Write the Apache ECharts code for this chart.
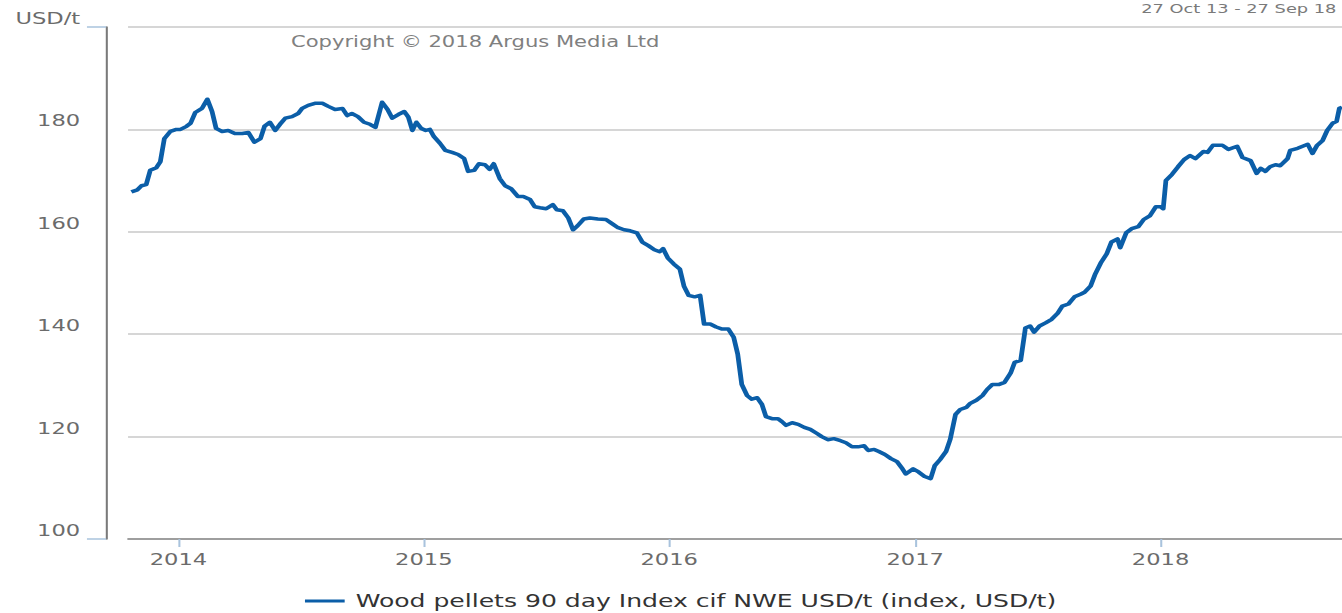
<!DOCTYPE html>
<html>
<head>
<meta charset="utf-8">
<title>Wood pellets 90 day Index</title>
<script src="https://cdn.jsdelivr.net/npm/echarts@6/dist/echarts.min.js"></script>
<style>
	html, body { margin: 0; padding: 0; background: #fff; overflow: hidden; }
	/* the source picture is stretched sideways, so the chart is drawn narrow and widened */
	#main { width: 980px; height: 613px; transform: scaleX(1.3694); transform-origin: 0 0; }
</style>
</head>
<body>
<div id="main"></div>
<script>
	const seriesName = 'Wood pellets 90 day Index cif NWE USD/t (index, USD/t)';

	const weekDates = [
		'2013-10-23', '2013-11-01', '2013-11-07', '2013-11-14', '2013-11-20', '2013-11-29', '2013-12-05', '2013-12-11', '2013-12-20', '2013-12-29',
		'2014-01-04', '2014-01-13', '2014-01-19', '2014-01-26', '2014-02-05', '2014-02-13', '2014-02-20', '2014-02-26', '2014-03-07', '2014-03-16',
		'2014-03-26', '2014-04-06', '2014-04-15', '2014-04-24', '2014-05-03', '2014-05-09', '2014-05-17', '2014-05-25', '2014-06-01', '2014-06-09',
		'2014-06-19', '2014-06-28', '2014-07-04', '2014-07-13', '2014-07-23', '2014-08-03', '2014-08-12', '2014-08-22', '2014-09-02', '2014-09-09',
		'2014-09-16', '2014-09-25', '2014-10-04', '2014-10-13', '2014-10-21', '2014-10-31', '2014-11-08', '2014-11-15', '2014-11-24', '2014-12-03',
		'2014-12-09', '2014-12-15', '2014-12-21', '2014-12-28',
		'2015-01-04', '2015-01-10', '2015-01-16', '2015-01-25', '2015-02-02', '2015-02-12', '2015-02-21', '2015-03-02', '2015-03-08', '2015-03-17',
		'2015-03-24', '2015-04-02', '2015-04-09', '2015-04-15', '2015-04-24', '2015-05-02', '2015-05-11', '2015-05-21', '2015-05-29', '2015-06-08',
		'2015-06-15', '2015-06-23', '2015-07-02', '2015-07-12', '2015-07-18', '2015-07-27', '2015-08-04', '2015-08-11', '2015-08-18', '2015-08-27',
		'2015-09-05', '2015-09-17', '2015-09-29', '2015-10-08', '2015-10-17', '2015-10-26', '2015-11-04', '2015-11-14', '2015-11-22', '2015-12-01',
		'2015-12-10', '2015-12-18', '2015-12-23', '2015-12-30',
		'2016-01-08', '2016-01-17', '2016-01-23', '2016-01-30', '2016-02-08', '2016-02-16', '2016-02-22', '2016-03-02', '2016-03-11', '2016-03-20',
		'2016-03-29', '2016-04-06', '2016-04-12', '2016-04-18', '2016-04-26', '2016-05-03', '2016-05-11', '2016-05-18', '2016-05-24', '2016-06-02',
		'2016-06-11', '2016-06-17', '2016-06-23', '2016-07-02', '2016-07-11', '2016-07-20', '2016-07-29', '2016-08-08', '2016-08-15', '2016-08-24',
		'2016-09-02', '2016-09-12', '2016-09-20', '2016-09-29', '2016-10-08', '2016-10-17', '2016-10-23', '2016-11-01', '2016-11-08', '2016-11-17',
		'2016-11-26', '2016-12-05', '2016-12-12', '2016-12-18', '2016-12-29',
		'2017-01-06', '2017-01-15', '2017-01-24', '2017-01-30', '2017-02-07', '2017-02-16', '2017-02-22', '2017-03-02', '2017-03-09', '2017-03-18',
		'2017-03-24', '2017-04-02', '2017-04-11', '2017-04-18', '2017-04-26', '2017-05-06', '2017-05-14', '2017-05-23', '2017-05-29', '2017-06-07',
		'2017-06-14', '2017-06-21', '2017-06-27', '2017-07-05', '2017-07-14', '2017-07-23', '2017-08-01', '2017-08-08', '2017-08-17', '2017-08-26',
		'2017-09-04', '2017-09-10', '2017-09-19', '2017-09-26', '2017-10-04', '2017-10-13', '2017-10-20', '2017-10-29', '2017-11-02', '2017-11-11',
		'2017-11-19', '2017-11-29', '2017-12-07', '2017-12-16', '2017-12-25',
		'2018-01-01', '2018-01-05', '2018-01-09', '2018-01-18', '2018-01-27', '2018-02-05', '2018-02-14', '2018-02-22', '2018-03-06', '2018-03-12',
		'2018-03-20', '2018-04-03', '2018-04-12', '2018-04-25', '2018-05-03', '2018-05-15', '2018-05-24', '2018-05-30', '2018-06-06', '2018-06-13',
		'2018-06-21', '2018-06-28', '2018-07-09', '2018-07-13', '2018-07-24', '2018-08-08', '2018-08-15', '2018-08-22', '2018-08-30', '2018-09-06',
		'2018-09-14', '2018-09-20', '2018-09-24', '2018-09-28'
	];

	const indexValues = [
		167.8, 168.2, 169.0, 169.2, 172.0, 172.5, 173.7, 178.2, 179.6, 180.0,
		180.0, 180.6, 181.2, 183.3, 184.1, 185.9, 183.5, 180.2, 179.6, 179.8,
		179.2, 179.2, 179.4, 177.5, 178.2, 180.6, 181.4, 179.8, 181.0, 182.2,
		182.5, 183.1, 184.1, 184.7, 185.1, 185.1, 184.5, 183.9, 184.1, 182.7,
		183.1, 182.5, 181.4, 181.0, 180.4, 185.3, 183.9, 182.2, 182.9, 183.5,
		182.4, 179.8, 181.4, 180.2,
		179.8, 180.0, 178.6, 177.3, 175.9, 175.5, 175.1, 174.3, 171.8, 172.0,
		173.3, 173.1, 172.2, 173.3, 170.4, 169.0, 168.4, 166.9, 166.9, 166.3,
		164.9, 164.7, 164.5, 165.3, 164.3, 164.1, 162.7, 160.4, 161.2, 162.5,
		162.7, 162.5, 162.4, 161.6, 160.8, 160.4, 160.2, 159.8, 158.0, 157.3,
		156.5, 156.1, 156.7, 154.9,
		153.7, 152.7, 149.4, 147.6, 147.3, 147.6, 142.0, 142.0, 141.4, 141.0,
		141.0, 139.4, 136.1, 130.2, 128.0, 127.3, 127.6, 126.3, 123.9, 123.5,
		123.5, 122.9, 122.2, 122.7, 122.4, 121.8, 121.4, 120.6, 120.0, 119.4,
		119.6, 119.2, 118.8, 118.0, 118.0, 118.2, 117.3, 117.5, 117.1, 116.5,
		115.7, 115.1, 113.9, 112.7, 113.7,
		113.1, 112.2, 111.8, 114.3, 115.5, 117.1, 119.4, 124.3, 125.3, 125.7,
		126.5, 127.1, 128.0, 129.2, 130.2, 130.2, 130.6, 132.4, 134.5, 134.9,
		141.2, 141.6, 140.4, 141.6, 142.2, 142.9, 144.1, 145.5, 145.9, 147.3,
		147.8, 148.2, 149.4, 151.8, 153.9, 155.7, 158.0, 158.6, 156.9, 159.8,
		160.6, 161.0, 162.4, 163.1, 164.9,
		164.9, 164.5, 170.0, 171.2, 172.7, 174.1, 174.9, 174.3, 175.7, 175.5,
		176.9, 176.9, 176.1, 176.7, 174.5, 173.9, 171.4, 172.4, 171.8, 172.7,
		173.1, 172.9, 174.3, 175.9, 176.3, 177.1, 175.3, 176.9, 177.8, 179.8,
		181.2, 181.6, 184.1, 184.3
	];

	const yearTicks = ['2014-01-01', '2015-01-01', '2016-01-01', '2017-01-01', '2018-01-01'];
	const axisStart = '2013-10-18';
	const axisEnd = '2018-09-28';
	const unitLabel = 'USD/t';
	const copyrightText = 'Copyright © 2018 Argus Media Ltd';
	const periodText = '27 Oct 13 - 27 Sep 18';

	const fontFamily = '"DejaVu Sans", Verdana, sans-serif';
	const lineColor = '#0b5ea8';

	function toTime(d) {
		return new Date(d + 'T00:00:00Z').getTime();
	}

	const chart = echarts.init(document.getElementById('main'), null, { renderer: 'svg' });

	let seriesData = [];
	for (let i = 0; i < weekDates.length; i++) {
		seriesData.push([toTime(weekDates[i]), indexValues[i]]);
	}
	const yearTickValues = yearTicks.map(toTime);

	const option = {
		animation: false,
		backgroundColor: '#fff',
		textStyle: {
			fontFamily: fontFamily
		},
		grid: {
			left: 93.5,
			right: 0,
			top: 27,
			bottom: 74,
			containLabel: false
		},
		legend: {
			left: 222.7,
			top: 592,
			padding: 0,
			icon: 'rect',
			itemWidth: 29,
			itemHeight: 3,
			itemGap: 10,
			textStyle: {
				color: '#333',
				fontSize: 18.3,
				fontFamily: fontFamily,
				padding: [0, 0, 0, 3]
			},
			data: [seriesName]
		},
		xAxis: {
			// dates are kept as timestamps on a value axis so the year ticks can be placed exactly
			type: 'value',
			min: toTime(axisStart),
			max: toTime(axisEnd),
			axisLine: {
				show: true,
				lineStyle: {
					color: '#8c8c8c',
					width: 1.5
				}
			},
			axisTick: {
				show: true,
				customValues: yearTickValues,
				length: 8,
				lineStyle: {
					color: '#a9c3dd',
					width: 1.5
				}
			},
			axisLabel: {
				customValues: yearTickValues,
				color: '#6b6b6b',
				fontSize: 16.5,
				margin: 12,
				formatter: function(value) {
					return String(new Date(value).getUTCFullYear());
				}
			},
			splitLine: {
				show: false
			}
		},
		yAxis: [{
				type: 'value',
				min: 100,
				max: 200,
				interval: 20,
				offset: 16,
				axisLine: {
					show: true,
					lineStyle: {
						color: '#7a7a7a',
						width: 1.5
					}
				},
				axisTick: {
					show: true,
					customValues: [100, 200],
					length: 14,
					lineStyle: {
						color: '#a9c3dd',
						width: 1.5
					}
				},
				axisLabel: {
					color: '#6b6b6b',
					fontSize: 16.5,
					margin: 19,
					verticalAlign: 'bottom',
					formatter: function(value) {
						return value === 200 ? unitLabel : String(value);
					}
				},
				splitLine: {
					show: false
				}
			},
			{
				// second copy of the scale, only for the grid lines
				type: 'value',
				min: 100,
				max: 200,
				interval: 20,
				position: 'left',
				axisLine: {
					show: false
				},
				axisTick: {
					show: false
				},
				axisLabel: {
					show: false
				},
				splitLine: {
					show: true,
					lineStyle: {
						color: '#c8c8c8',
						width: 1.5
					}
				}
			}
		],
		graphic: [{
				type: 'text',
				left: 212.5,
				top: 34,
				style: {
					text: copyrightText,
					fill: '#808080',
					fontSize: 15.4,
					fontFamily: fontFamily
				}
			},
			{
				type: 'text',
				right: 4,
				top: 2,
				style: {
					text: periodText,
					fill: '#7a7a7a',
					fontSize: 13,
					fontFamily: fontFamily
				}
			}
		],
		series: [{
			name: seriesName,
			type: 'line',
			yAxisIndex: 0,
			data: seriesData,
			showSymbol: false,
			symbol: 'none',
			itemStyle: {
				color: lineColor
			},
			lineStyle: {
				color: lineColor,
				width: 3.5,
				join: 'round'
			}
		}]
	};

	chart.setOption(option);
</script>
</body>
</html>
